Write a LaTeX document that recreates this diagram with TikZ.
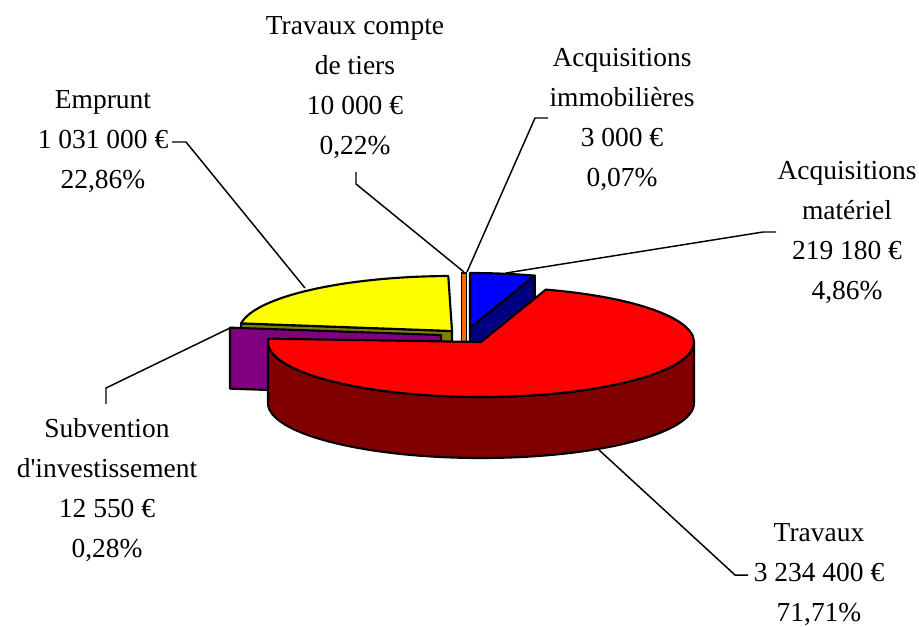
\documentclass[tikz,border=0pt]{standalone}
\usepackage{fontspec}
\setmainfont{Liberation Serif}
\definecolor{redtop}{HTML}{FF0000}
\definecolor{redside}{HTML}{800000}
\definecolor{bluetop}{HTML}{0000FF}
\definecolor{blueside}{HTML}{000080}
\definecolor{yeltop}{HTML}{FFFF00}
\definecolor{olvside}{HTML}{808000}
\definecolor{purpside}{HTML}{800080}
\definecolor{orng}{HTML}{FF6600}
\tikzset{
  pie/.style={draw=black, line width=1.6pt, line join=round},
  leader/.style={draw=black, line width=1.1pt},
  lbl/.style={align=center, inner sep=0pt, font=\fontsize{20.6}{30}\selectfont},
}
\begin{document}
\begin{tikzpicture}[x=0.75pt,y=-0.75pt]
\useasboundingbox (0,0) rectangle (919,626);
% yellow (Emprunt)
\filldraw[pie, fill=olvside] (452,331) -- ++(-172:213 and 55) -- ++(0,61) -- (452,392) -- cycle;
\filldraw[pie, fill=yeltop] (452,331) -- ++(-91:213 and 55)
  arc[start angle=-91, end angle=-172, x radius=213, y radius=55] -- cycle;
% tiny slices
\filldraw[pie, line width=1pt, fill=orng] (461.5,273) rectangle (466.3,345);
% blue (Acquisitions materiel)
\filldraw[pie, fill=blueside] (470,328) -- ++(-72.3:213 and 55) -- ++(0,61) -- (470,389) -- cycle;
\filldraw[pie, fill=bluetop] (470,328) -- ++(-90:213 and 55)
  arc[start angle=-90, end angle=-72.3, x radius=213, y radius=55] -- cycle;
% purple (Subvention)
\filldraw[pie, fill=purpside] (441,335) -- ++(-172.3:213 and 55) -- ++(0,61) -- (441,396) -- cycle;
% red (Travaux)
\filldraw[pie, fill=redside] (268,342) arc[start angle=180, end angle=0, x radius=213, y radius=55]
  -- ++(0,61) arc[start angle=0, end angle=180, x radius=213, y radius=55] -- cycle;
\filldraw[pie, fill=redtop] (481,342) -- ++(-176.5:213 and 55)
  arc[start angle=-176.5, end angle=-432.3, x radius=213, y radius=55] -- cycle;

% labels
\node[lbl] (emp) at (103,142) {Emprunt\\1 031 000 €\\22,86\%};
\node[lbl] (tie) at (355,88) {Travaux compte\\de tiers\\10 000 €\\0,22\%};
\node[lbl] (imm) at (622,120) {Acquisitions\\immobilières\\3 000 €\\0,07\%};
\node[lbl] (mat) at (847,233) {Acquisitions\\matériel\\219 180 €\\4,86\%};
\node[lbl] (sub) at (107,490) {Subvention\\d\textquotesingle investissement\\12 550 €\\0,28\%};
\node[lbl] (tra) at (819,575) {Travaux\\3 234 400 €\\71,71\%};

% leader coordinates
\coordinate (empA) at (172,142); \coordinate (empB) at (186,142); \coordinate (empP) at (305,288);
\coordinate (subA) at (106,404); \coordinate (subB) at (106,388); \coordinate (subP) at (230,328);
\coordinate (tieA) at (356,172); \coordinate (tieB) at (356,184); \coordinate (tieP) at (464,272);
\coordinate (immA) at (548,118); \coordinate (immB) at (535,118); \coordinate (immP) at (467,272);
\coordinate (matA) at (776,232); \coordinate (matB) at (763,232); \coordinate (matP) at (506,273);
\coordinate (traA) at (748,575); \coordinate (traB) at (735,575); \coordinate (traP) at (598,449);

\draw[leader] (empA) -- (empB) -- (empP);
\draw[leader] (subA) -- (subB) -- (subP);
\draw[leader] (tieA) -- (tieB) -- (tieP);
\draw[leader] (immA) -- (immB) -- (immP);
\draw[leader] (matA) -- (matB) -- (matP);
\draw[leader] (traA) -- (traB) -- (traP);
\end{tikzpicture}
\end{document}
